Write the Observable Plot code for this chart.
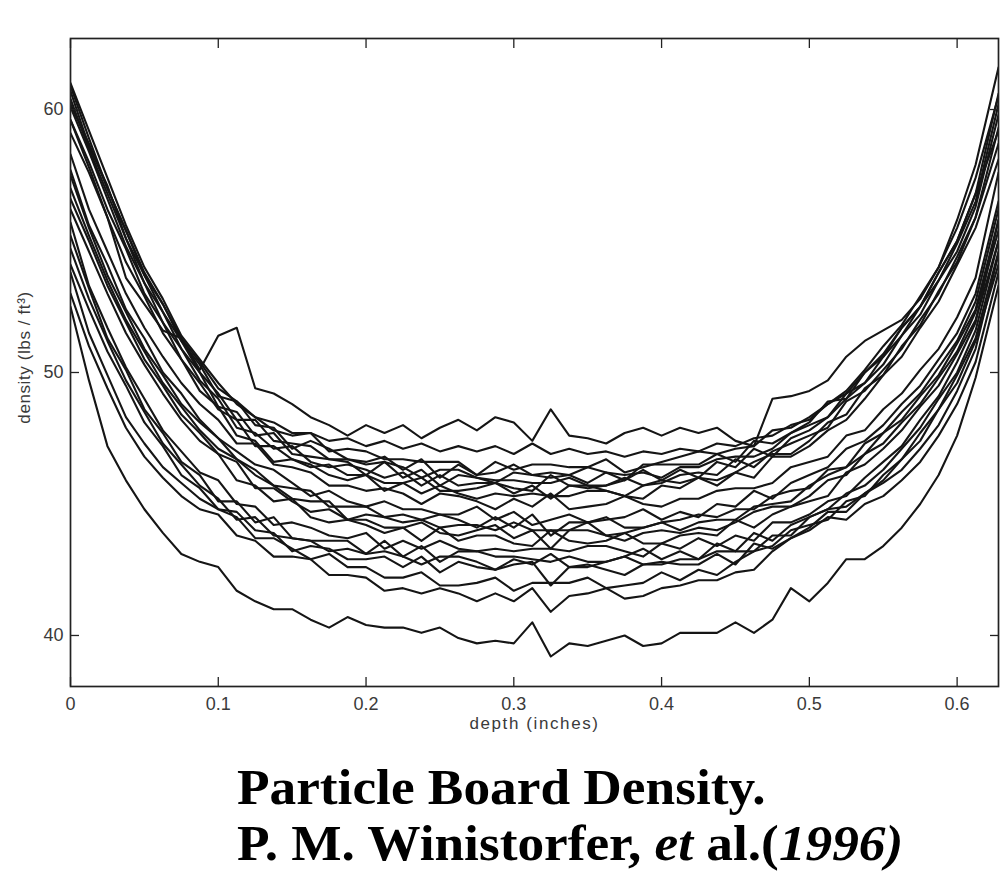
<!DOCTYPE html>
<html>
<head>
<meta charset="utf-8">
<script src="https://cdn.jsdelivr.net/npm/d3@7"></script>
<script src="https://cdn.jsdelivr.net/npm/@observablehq/plot@0.6"></script>
<style>
  html, body { margin: 0; padding: 0; background: #fff; }
  #wrap { position: relative; width: 1001px; height: 876px; }
  .title { position: absolute; left: 237px; height: 56px; font-family: "Liberation Serif", "Times New Roman", serif; font-weight: bold; font-size: 50px; line-height: 56px; color: #000; white-space: nowrap; transform: scaleX(1.066); transform-origin: 0 0; }
  #t1 { top: 759px; }
  #t2 { top: 815px; }
  #chart g[aria-label="x-axis tick label"], #chart g[aria-label="y-axis tick label"] { font-size: 18px; }
  #chart .xlbl { letter-spacing: 1.6px; }
  #chart .ylbl { letter-spacing: 0.6px; }
</style>
</head>
<body>
<div id="wrap">
  <div id="chart"></div>
  <div class="title" id="t1">Particle Board Density.</div>
  <div class="title" id="t2">P. M. Winistorfer, <i>et</i> al.(<i>1996)</i></div>
</div>
<script>
const depth = [0,0.0125,0.025,0.0375,0.05,0.0625,0.075,0.0875,0.1,0.1125,0.125,0.1375,0.15,0.1625,0.175,0.1875,0.2,0.2125,0.225,0.2375,0.25,0.2625,0.275,0.2875,0.3,0.3125,0.325,0.3375,0.35,0.3625,0.375,0.3875,0.4,0.4125,0.425,0.4375,0.45,0.4625,0.475,0.4875,0.5,0.5125,0.525,0.5375,0.55,0.5625,0.575,0.5875,0.6,0.6125,0.628];

const boardA = [59.6,57.8,55.9,53.6,52.6,51.6,51.3,50.1,51.4,51.7,49.4,49.2,48.8,48.3,48.0,47.6,48.0,47.7,48.0,47.5,47.9,48.2,47.8,48.3,48.1,47.4,48.6,47.6,47.5,47.3,47.7,47.9,47.6,47.9,47.7,47.9,47.4,47.2,49.0,49.1,49.3,49.7,50.6,51.2,51.6,52.0,52.8,54.0,55.5,57.4,60.5];
const boardB = [60.2,58.7,57.0,55.4,53.8,52.6,51.3,50.4,49.4,48.9,48.3,48.1,47.7,47.7,47.4,47.5,47.2,47.4,47.1,47.3,47.0,47.2,47.0,47.2,46.9,47.3,46.9,47.1,46.9,47.0,46.8,47.0,46.9,47.1,47.0,47.3,47.2,47.5,47.6,48.0,48.2,48.8,49.2,50.0,50.6,51.7,52.5,53.8,55.0,56.8,59.2];
const boardU1 = [61.0,59.2,57.4,55.6,54.0,52.8,51.4,50.5,49.6,48.8,48.3,47.8,47.6,47.7,47.0,47.1,47.0,46.7,46.7,46.6,46.6,46.6,46.1,46.6,46.3,46.5,46.5,46.4,46.4,46.7,46.2,46.4,46.6,46.8,47.0,46.9,47.1,47.2,47.8,47.9,48.3,48.8,49.3,50.1,51.0,51.8,52.9,54.0,55.8,57.9,61.6];
const boardU7 = [60.9,58.9,57.0,55.4,53.7,52.6,51.2,50.3,49.1,48.9,48.0,47.9,47.1,47.4,47.1,46.7,46.6,46.8,46.3,46.7,46.0,46.5,46.1,46.2,46.5,46.1,46.2,46.1,46.4,46.2,45.9,46.5,46.5,46.5,46.5,46.9,46.6,47.4,47.3,47.7,48.1,48.9,49.0,50.0,50.7,51.7,52.5,53.8,55.0,56.8,60.6];
const boardU2 = [60.7,58.6,57.1,55.1,53.7,52.3,51.2,50.0,49.2,48.2,48.2,47.4,47.3,47.2,46.7,46.7,46.5,46.6,46.4,46.0,46.3,46.3,46.0,45.8,46.2,46.1,46.0,46.1,45.8,46.2,46.1,46.2,46.0,46.4,46.4,46.7,46.8,46.8,47.1,47.7,48.0,48.3,49.2,49.6,50.6,51.4,52.5,53.5,54.9,56.5,60.2];
const boardU3 = [60.4,58.5,56.8,55.1,53.4,52.3,50.9,50.0,48.7,48.5,47.6,47.7,46.9,46.8,46.7,46.6,46.1,46.6,46.0,46.3,45.7,46.1,46.0,45.9,45.9,45.8,45.8,46.0,45.7,45.7,45.9,46.3,45.9,46.3,46.0,46.6,46.4,47.1,46.8,47.5,47.8,48.3,49.0,49.6,50.3,51.4,52.2,53.5,54.6,56.3,59.8];
const boardU4 = [60.1,58.4,56.6,54.8,53.4,51.9,50.9,49.7,49.0,47.9,47.7,47.1,47.2,46.6,46.4,46.5,46.3,46.0,46.2,45.7,46.1,45.7,45.8,45.8,45.6,45.5,46.1,45.7,45.6,45.7,46.0,45.7,45.8,46.1,46.2,46.1,46.7,46.4,47.0,47.3,47.6,47.9,48.9,49.3,50.1,50.9,52.0,53.0,54.4,55.9,59.3];
const boardU5 = [59.6,58.0,56.2,54.7,53.0,51.9,50.5,49.6,48.6,48.2,47.2,47.2,46.7,46.4,46.5,46.1,46.1,45.8,45.8,46.0,45.5,45.5,45.6,45.8,45.4,45.7,45.2,45.7,45.7,45.5,45.3,45.7,45.9,45.8,46.0,45.9,46.2,46.6,46.9,46.9,47.4,48.1,48.4,49.4,49.9,51.0,51.8,53.1,54.2,55.9,58.7];
const boardU6 = [59.1,57.6,55.9,54.2,52.9,51.5,50.5,49.3,48.7,47.6,47.4,46.6,46.7,46.5,46.1,45.9,46.1,45.5,45.8,45.4,45.7,45.4,45.2,45.4,45.3,45.4,45.3,45.3,45.5,45.5,45.3,45.2,45.7,45.6,46.0,45.7,46.2,46.0,46.8,46.8,47.2,47.8,48.2,49.0,49.9,50.6,51.7,52.7,54.1,55.5,58.1];
const boardS1 = [58.3,56.2,54.6,53.0,51.7,50.6,49.6,48.8,48.2,47.3,47.3,46.5,46.4,46.2,45.7,45.7,45.5,45.6,45.4,45.0,45.4,45.3,45.1,44.8,45.2,44.9,45.4,44.8,44.9,45.0,45.3,45.0,44.9,45.2,45.2,45.5,45.6,45.6,45.8,46.4,46.6,46.8,47.6,47.8,48.6,49.2,50.1,50.9,52.1,53.6,57.6];
const boardS6 = [57.7,55.6,54.1,52.4,51.3,50.0,49.2,48.2,47.5,47.0,46.5,46.3,45.8,45.3,45.5,45.1,44.9,45.1,44.8,44.8,44.6,44.6,44.9,44.4,44.7,44.2,44.4,44.6,44.3,44.4,44.5,44.8,44.4,44.7,44.5,45.0,44.9,45.5,45.2,45.8,46.1,46.4,47.1,47.4,48.0,48.8,49.5,50.5,51.5,53.0,56.5];
const boardS2 = [57.5,55.5,53.7,52.3,50.9,49.9,48.8,48.1,47.5,46.7,46.3,45.7,45.6,45.5,44.9,44.9,44.9,44.5,44.6,44.4,44.6,44.4,44.1,44.5,44.1,44.6,43.8,44.3,44.3,44.5,44.1,44.1,44.3,44.4,44.6,44.5,44.8,44.8,45.3,45.5,45.6,46.3,46.4,47.3,47.7,48.5,49.2,50.2,51.2,52.7,56.2];
const boardS3 = [57.0,55.2,53.5,52.0,50.8,49.6,48.7,47.8,47.1,46.7,46.1,45.7,45.2,45.1,45.1,44.4,44.6,44.5,44.3,44.4,44.1,44.2,44.2,44.0,44.3,44.0,44.0,44.0,44.3,43.8,43.9,44.1,44.3,44.0,44.3,44.4,44.4,44.9,45.0,45.1,45.7,46.1,46.4,46.9,47.7,48.2,49.1,49.9,51.1,52.4,55.8];
const boardS4 = [56.6,55.0,53.3,51.9,50.5,49.5,48.4,47.7,46.9,46.6,45.6,45.6,45.1,44.7,44.8,44.4,44.4,44.1,44.1,44.3,43.9,43.8,44.0,44.2,43.7,44.0,43.3,44.0,44.0,43.8,43.6,43.9,44.0,43.9,44.1,44.0,44.3,44.7,44.9,44.9,45.3,45.9,46.1,46.9,47.3,48.1,48.8,49.8,50.8,52.3,55.4];
const boardS5 = [56.2,54.6,53.0,51.5,50.3,49.2,48.2,47.4,46.9,45.9,45.7,45.1,45.2,44.5,44.3,44.4,44.2,43.9,44.1,43.6,44.1,43.6,43.8,43.8,43.5,43.4,44.0,43.6,43.5,43.6,43.9,43.5,43.5,43.8,43.9,43.8,44.4,44.1,44.6,44.9,45.1,45.3,46.2,46.5,47.1,47.8,48.7,49.5,50.7,52.0,55.0];
const boardL1 = [55.7,53.3,51.7,50.2,49.0,47.8,47.0,46.2,45.9,45.0,44.9,44.2,44.3,44.1,43.8,43.7,43.9,43.3,43.6,43.3,43.6,43.3,43.2,43.3,43.2,43.3,43.3,43.2,43.4,43.4,43.2,43.0,43.5,43.3,43.7,43.4,43.8,43.6,44.3,44.3,44.6,45.1,45.3,46.0,46.6,47.2,48.2,49.1,50.4,51.9,55.8];
const boardL2 = [55.2,53.2,51.3,50.1,48.6,47.7,46.6,46.1,45.1,45.1,44.3,44.5,43.7,43.6,43.6,43.6,43.1,43.6,43.0,43.4,42.8,43.2,43.2,43.0,43.0,42.9,42.8,43.0,42.8,42.8,43.0,43.3,42.9,43.2,42.9,43.5,43.2,43.9,43.6,44.2,44.5,44.8,45.4,45.7,46.3,47.1,47.9,49.0,50.0,51.6,55.0];
const boardL3 = [54.7,52.8,51.2,49.7,48.5,47.3,46.5,45.7,45.2,44.4,44.5,43.8,43.7,43.6,43.2,43.3,43.1,43.2,43.0,42.7,43.0,43.0,42.8,42.5,42.9,42.7,43.1,42.6,42.6,42.8,43.0,42.7,42.7,42.9,42.9,43.2,43.2,43.2,43.4,44.0,44.2,44.4,45.1,45.3,46.1,46.7,47.7,48.6,49.9,51.3,54.6];
const boardL4 = [54.1,52.4,50.8,49.5,48.1,47.2,46.1,45.6,44.8,44.7,44.0,43.9,43.2,43.4,43.3,42.9,42.9,43.0,42.6,43.0,42.4,42.8,42.6,42.5,42.7,42.8,41.9,42.6,42.7,42.5,42.3,42.7,42.8,42.7,42.7,43.1,42.7,43.5,43.3,43.7,44.1,44.7,44.7,45.4,45.9,46.7,47.4,48.6,49.6,51.2,54.1];
const boardLL1 = [53.8,51.5,49.9,48.3,47.3,46.4,45.8,45.2,44.8,44.5,43.7,43.7,43.3,42.9,43.1,42.6,42.6,42.2,42.2,42.4,41.9,41.9,42.0,42.2,41.7,42.0,42.0,42.0,42.2,41.8,41.9,42.0,42.4,42.1,42.5,42.3,42.8,43.2,43.8,43.8,44.5,44.8,44.9,45.4,45.8,46.3,47.1,48.0,49.3,50.9,54.5];
const boardLL2 = [53.0,51.0,49.4,47.9,46.8,46.0,45.3,44.8,44.6,43.8,43.6,43.0,43.0,42.9,42.3,42.3,42.2,41.7,41.8,41.6,41.8,41.6,41.3,41.6,41.3,41.8,40.9,41.5,41.6,41.8,41.4,41.5,41.8,41.9,42.1,42.1,42.4,42.5,43.2,43.7,44.0,44.5,44.4,45.0,45.3,45.9,46.6,47.6,48.8,50.4,53.8];
const boardLow = [52.5,49.7,47.2,45.9,44.8,43.9,43.1,42.8,42.6,41.7,41.3,41.0,41.0,40.6,40.3,40.7,40.4,40.3,40.3,40.1,40.3,39.9,39.7,39.8,39.7,40.5,39.2,39.7,39.6,39.8,40.0,39.6,39.7,40.1,40.1,40.1,40.5,40.1,40.6,41.8,41.3,42.0,42.9,42.9,43.4,44.1,45.0,46.1,47.6,49.8,53.3];

const xTicks = [0, 0.1, 0.2, 0.3, 0.4, 0.5, 0.6];
const xTickLabels = ["0", "0.1", "0.2", "0.3", "0.4", "0.5", "0.6"];
const yTicks = [40, 50, 60];
const xLabel = "depth (inches)";
const yLabel = "density (lbs / ft\u00B3)";

const boards = {boardA, boardB, boardU1, boardU7, boardU2, boardU3, boardU4, boardU5, boardU6,
  boardS1, boardS6, boardS2, boardS3, boardS4, boardS5, boardL1, boardL2, boardL3, boardL4,
  boardLL1, boardLL2, boardLow};

const rows = Object.entries(boards).flatMap(([id, vals]) =>
  vals.map((v, i) => ({id, depth: depth[i], density: v})));

const font = '"Liberation Sans", Arial, Helvetica, sans-serif';

const chart = Plot.plot({
  width: 1001,
  height: 745,
  marginLeft: 70,
  marginRight: 3,
  marginTop: 38,
  marginBottom: 59,
  style: {fontFamily: font, fontSize: "17px", color: "#333", background: "#fff"},
  x: {domain: [0, 0.628]},
  y: {domain: [38.06, 62.7]},
  marks: [
    Plot.lineY(rows, {x: "depth", y: "density", z: "id", stroke: "#151515", strokeWidth: 2.1, strokeLinejoin: "round", clip: true}),
    Plot.frame({stroke: "#222", strokeWidth: 1.7}),
    Plot.axisX(xTicks, {anchor: "bottom", tickSize: -9, tickPadding: 20, tickFormat: (d, i) => xTickLabels[i], label: null, stroke: "#222", strokeWidth: 1.3, fill: "#3a3a3a", fontSize: 18}),
    Plot.axisX(xTicks, {anchor: "top", tickSize: -9, tickFormat: () => "", label: null, stroke: "#222", strokeWidth: 1.3}),
    Plot.axisY(yTicks, {anchor: "left", tickSize: -9, tickPadding: 16, label: null, stroke: "#222", strokeWidth: 1.3, fill: "#3a3a3a", fontSize: 18}),
    Plot.axisY(yTicks, {anchor: "right", tickSize: -9, tickFormat: () => "", label: null, stroke: "#222", strokeWidth: 1.3}),
    Plot.text([xLabel], {frameAnchor: "bottom", text: d => d, dy: 37, textAnchor: "middle", lineAnchor: "middle", fill: "#3a3a3a", fontSize: 17, className: "xlbl"}),
    Plot.text([yLabel], {frameAnchor: "left", text: d => d, rotate: -90, dx: -46, dy: -5, textAnchor: "middle", lineAnchor: "middle", fill: "#3a3a3a", fontSize: 17, className: "ylbl"})
  ]
});
document.getElementById("chart").appendChild(chart);
</script>
</body>
</html>
